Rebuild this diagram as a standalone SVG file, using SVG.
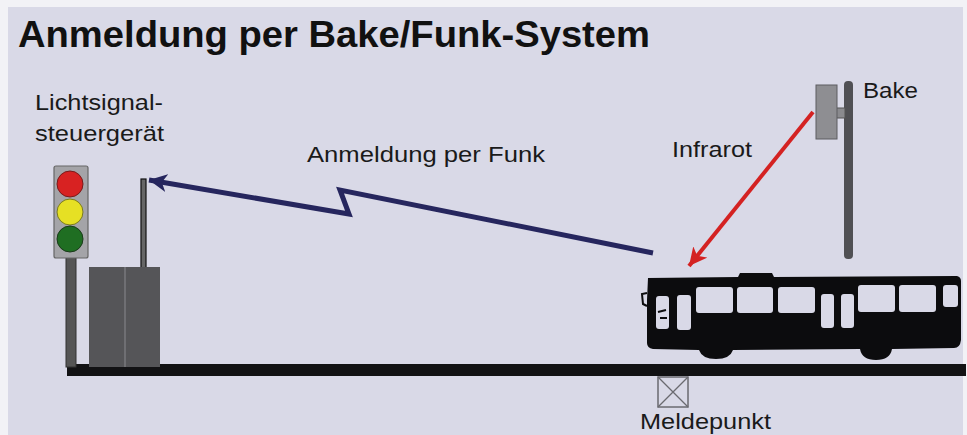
<svg xmlns="http://www.w3.org/2000/svg" width="967" height="435" viewBox="0 0 967 435">
  <style>
    .lbl { font-family: "Liberation Sans", Arial, sans-serif; font-size: 22px; fill: #1a1a1a; }
    .title { font-family: "Liberation Sans", Arial, sans-serif; font-size: 36px; font-weight: bold; fill: #111; }
    .win { fill: #d9d9e7; }
  </style>
  <defs>
    <marker id="headBlue" markerUnits="userSpaceOnUse" markerWidth="20" markerHeight="18" refX="18" refY="9" orient="auto">
      <path d="M0,0 L18,9 L0,18 L5,9 Z" fill="#26265e"/>
    </marker>
    <marker id="headRed" markerUnits="userSpaceOnUse" markerWidth="20" markerHeight="18" refX="18" refY="9" orient="auto">
      <path d="M0,0 L18,9 L0,18 L5,9 Z" fill="#d42222"/>
    </marker>
  </defs>

  <!-- background -->
  <rect x="0" y="0" width="967" height="435" fill="#f2f2f6"/>
  <rect x="8" y="7" width="955" height="428" fill="#d9d9e7"/>

  <text class="title" x="18" y="47" textLength="632" lengthAdjust="spacingAndGlyphs">Anmeldung per Bake/Funk-System</text>

  <!-- ground -->
  <rect id="ground" x="67" y="364" width="899" height="12" fill="#121214"/>

  <!-- traffic light -->
  <g id="ampel">
    <rect x="66" y="255" width="10" height="112" fill="#555" stroke="#333" stroke-width="1"/>
    <rect x="54" y="166" width="34" height="92" rx="2" fill="#a4a4a8" stroke="#666" stroke-width="1.2"/>
    <circle cx="70" cy="184" r="13" fill="#d82222" stroke="#7a1a1a" stroke-width="1"/>
    <circle cx="70" cy="212" r="13" fill="#e6e024" stroke="#7a7a20" stroke-width="1"/>
    <circle cx="70" cy="239" r="13" fill="#1f6e22" stroke="#1a3a1a" stroke-width="1"/>
    <text class="lbl" x="35" y="110" textLength="128" lengthAdjust="spacingAndGlyphs">Lichtsignal-</text>
    <text class="lbl" x="35" y="141" textLength="129" lengthAdjust="spacingAndGlyphs">steuergerät</text>
  </g>

  <!-- controller cabinet with antenna -->
  <g id="steuergeraet">
    <rect x="141" y="179" width="5" height="89" fill="#666" stroke="#111" stroke-width="1.2"/>
    <rect x="89" y="267" width="71" height="100" fill="#555558"/>
    <line x1="125" y1="267" x2="125" y2="367" stroke="#8a8a8e" stroke-width="1"/>
  </g>

  <!-- beacon -->
  <g id="bake">
    <rect x="844" y="81" width="9" height="178" rx="4" fill="#505054"/>
    <rect x="836" y="108" width="9" height="10" fill="#8a8a8e" stroke="#555" stroke-width="1"/>
    <rect x="816" y="85" width="21" height="54" fill="#8e8e92" stroke="#5c5c60" stroke-width="1"/>
    <text class="lbl" x="863" y="98" textLength="55" lengthAdjust="spacingAndGlyphs">Bake</text>
  </g>

  <!-- bus -->
  <g id="bus">
    <path d="M648,278 L738,277 L740,273 L772,273 L774,277 L957,276 Q961,277 961,281 L961,340 Q960,348 954,348 L892,349 Q890,360 876,360 Q862,360 860,349 L733,350 Q730,359 716,359 Q702,359 699,350 L653,349 Q647,348 647,343 L647,300 Z" fill="#0c0c0e"/>
    <path d="M647,293 L642,294 L643,304 L647,306" fill="none" stroke="#0c0c0e" stroke-width="2"/>
    <rect class="win" x="656" y="296" width="13" height="33" rx="3"/>
    <rect class="win" x="677" y="295" width="14" height="35" rx="3"/>
    <rect class="win" x="696" y="287" width="37" height="26" rx="3"/>
    <rect class="win" x="737" y="287" width="36" height="26" rx="3"/>
    <rect class="win" x="778" y="287" width="37" height="26" rx="3"/>
    <rect class="win" x="821" y="294" width="13" height="34" rx="3"/>
    <rect class="win" x="841" y="294" width="13" height="34" rx="3"/>
    <rect class="win" x="858" y="285" width="37" height="27" rx="3"/>
    <rect class="win" x="899" y="285" width="37" height="27" rx="3"/>
    <rect class="win" x="943" y="285" width="15" height="22" rx="3"/>
    <path d="M658,312 L666,310 M660,318 L667,318" stroke="#0c0c0e" stroke-width="2"/>
  </g>

  <!-- reporting point -->
  <g id="meldepunkt">
    <rect x="658" y="377" width="30" height="30" fill="none" stroke="#6a6a70" stroke-width="1.5"/>
    <path d="M658,377 L688,407 M688,377 L658,407" stroke="#6a6a70" stroke-width="1.3"/>
    <text class="lbl" x="640" y="429" textLength="131" lengthAdjust="spacingAndGlyphs">Meldepunkt</text>
  </g>

  <!-- connectors -->
  <g id="connectors" fill="none" stroke-linejoin="miter">
    <path d="M653,253 L340,190 L349,214 L149,180" stroke="#26265e" stroke-width="5" marker-end="url(#headBlue)"/>
    <path d="M813,112 L689,266" stroke="#d42222" stroke-width="4" marker-end="url(#headRed)"/>
  </g>

  <text class="lbl" x="307" y="162" textLength="238" lengthAdjust="spacingAndGlyphs">Anmeldung per Funk</text>
  <text class="lbl" x="672" y="157" textLength="80" lengthAdjust="spacingAndGlyphs">Infrarot</text>
</svg>
